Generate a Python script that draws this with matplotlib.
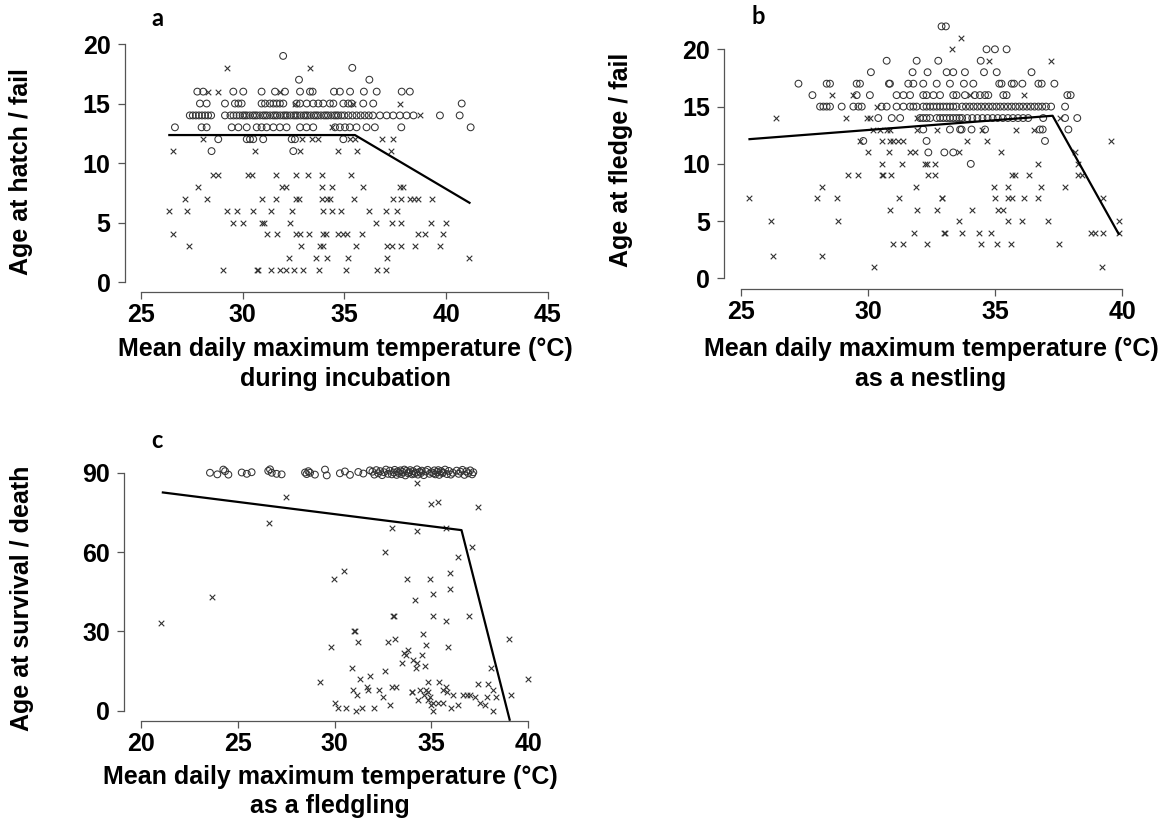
import matplotlib
matplotlib.use("Agg")
import matplotlib.pyplot as plt

plt.rcParams['font.family'] = ['Liberation Sans', 'DejaVu Sans']
plt.rcParams['font.weight'] = 'bold'

# ---------------- Panel a: age at hatch / fail ----------------
a_hatch_ages = [19, 18, 17, 16, 15, 14, 13, 12, 11]
a_hatch_temps = [
    [31.99],
    [35.39],
    [32.77, 36.23],
    [27.77, 28.06, 29.54, 30.03, 30.93, 31.59, 32.08, 32.82, 33.31, 33.44, 34.49, 34.78, 35.28, 35.96, 36.59, 37.82, 38.22],
    [27.90, 28.23, 29.13, 29.62, 29.79, 29.95, 30.93, 31.10, 31.34, 31.51, 31.67, 31.83, 32.0, 32.65, 32.82, 33.15,
     33.47, 33.72, 33.96, 34.29, 34.46, 34.95, 35.19, 35.36, 35.93, 36.42, 40.77],
    [27.4, 27.55, 27.7, 27.85, 28.0, 28.15, 28.3, 28.45, 29.13, 29.4, 29.55, 29.7, 29.85, 30.0, 30.1, 30.2, 30.35,
     30.5, 30.6, 30.7, 30.85, 31.0, 31.1, 31.2, 31.35, 31.5, 31.6, 31.7, 31.85, 32.0, 32.1, 32.2, 32.35, 32.5, 32.6,
     32.7, 32.85, 33.0, 33.1, 33.2, 33.35, 33.5, 33.6, 33.7, 33.85, 34.0, 34.1, 34.2, 34.35, 34.5, 34.6, 34.7, 34.85,
     35.0, 35.2, 35.4, 35.6, 35.8, 36.0, 36.2, 36.4, 36.75, 37.08, 37.4, 37.73, 38.06, 38.4, 39.7, 40.67],
    [26.67, 27.98, 28.23, 29.46, 29.79, 30.2, 30.69, 30.93, 31.18, 31.51, 31.83, 32.16, 32.82, 33.14, 33.47, 34.54,
     34.78, 35.03, 35.27, 35.6, 36.09, 36.5, 37.8, 41.21],
    [28.8, 30.2, 30.36, 30.52, 31.01, 32.41, 32.57, 34.95],
    [28.47, 32.49],
]
a_fail_ages = [18, 16, 15, 14, 13, 12, 11, 9, 8, 7, 6, 5, 4, 3, 2, 1]
a_fail_temps = [
    [29.24, 33.31],
    [28.31, 28.8, 31.83],
    [32.57, 35.44, 37.73],
    [38.7],
    [34.37],
    [28.07, 32.9, 33.39, 33.72, 35.27, 35.52, 36.83, 37.41],
    [26.59, 30.6, 32.82, 34.7, 35.6, 37.29],
    [28.56, 28.8, 30.28, 30.44, 31.62, 32.6, 33.23, 33.88, 35.31],
    [27.79, 31.92, 32.11, 33.88, 34.37, 35.9, 37.73, 37.86],
    [27.18, 28.23, 30.93, 31.62, 32.6, 32.77, 33.91, 34.16, 34.29, 35.49, 37.41, 37.77, 38.22, 38.42, 38.63, 39.29],
    [26.36, 27.28, 29.21, 29.7, 30.49, 31.39, 32.44, 33.93, 34.37, 34.82, 36.19, 37.03, 37.6],
    [29.54, 30.0, 30.93, 31.05, 32.33, 36.54, 37.32, 37.77, 39.24, 39.99],
    [26.56, 31.18, 31.67, 32.6, 32.82, 33.28, 33.96, 34.1, 34.7, 34.95, 35.11, 35.88, 38.63, 38.96, 39.83],
    [27.36, 32.85, 33.8, 33.96, 35.55, 37.08, 37.36, 37.77, 38.47, 39.7],
    [32.28, 33.6, 34.16, 35.19, 37.08, 41.13],
    [29.05, 30.69, 30.77, 31.38, 31.83, 32.11, 32.54, 32.98, 33.75, 35.08, 36.59, 37.05],
]
a_fit_x = [26.34, 35.52, 41.2]
a_fit_y = [12.35, 12.35, 6.61]

# ---------------- Panel b: age at fledge / fail ----------------
b_fledge_ages = [22, 20, 19, 18, 17, 16, 15, 14, 13, 12, 11, 10]
b_fledge_temps = [
    [32.89, 33.06],
    [34.66, 34.99, 35.45],
    [30.73, 31.91, 32.76, 34.43],
    [30.11, 31.75, 32.34, 33.09, 33.35, 33.81, 34.56, 35.06, 36.43],
    [27.26, 28.37, 28.5, 29.55, 29.68, 30.82, 30.86, 31.58, 31.78, 32.17, 32.7, 33.22, 33.77, 34.14, 35.16, 35.25,
     35.65, 35.74, 36.07, 36.7, 36.83, 37.33],
    [27.81, 29.55, 30.07, 31.12, 31.39, 31.65, 32.17, 32.3, 32.57, 32.83, 33.35, 33.48, 33.81, 34.2, 34.4, 34.6,
     34.73, 35.32, 35.45, 37.84, 37.97],
    [28.11, 28.24, 28.37, 28.5, 28.96, 29.42, 29.62, 29.75, 30.53, 30.73, 31.12, 31.39, 31.65, 31.78, 31.91, 32.17,
     32.3, 32.44, 32.57, 32.7, 32.83, 32.96, 33.09, 33.22, 33.35, 33.48, 33.7, 33.85, 34.0, 34.15, 34.3, 34.45, 34.6,
     34.75, 34.9, 35.05, 35.2, 35.35, 35.5, 35.65, 35.8, 35.95, 36.1, 36.25, 36.4, 36.55, 36.7, 36.85, 37.0, 37.2,
     37.75],
    [30.4, 30.93, 31.26, 32.04, 32.17, 32.3, 32.44, 32.7, 32.83, 32.96, 33.09, 33.22, 33.35, 33.48, 33.6, 33.7, 33.9,
     34.1, 34.3, 34.5, 34.7, 34.9, 35.1, 35.3, 35.5, 35.7, 35.9, 36.1, 36.3, 36.89, 37.75, 38.23],
    [32.17, 33.22, 33.62, 33.68, 34.07, 34.6, 36.76, 36.87, 37.88],
    [29.81, 32.3, 36.96],
    [32.37, 33.0, 33.35],
    [34.04],
]
b_fail_ages = [21, 20, 19, 16, 15, 14, 13, 12, 11, 10, 9, 8, 7, 6, 5, 4, 3, 2, 1]
b_fail_temps = [
    [33.64],
    [33.29],
    [34.77, 37.18],
    [28.57, 29.42, 34.01, 36.13],
    [30.34],
    [26.36, 29.12, 29.94, 30.07, 31.91, 37.55],
    [30.21, 30.47, 30.73, 30.86, 31.91, 32.7, 34.47, 35.82, 36.53],
    [29.68, 30.53, 30.86, 30.99, 31.19, 31.39, 33.88, 34.66, 39.54],
    [30.01, 30.84, 31.65, 31.85, 33.59, 35.23, 38.14],
    [30.53, 31.32, 32.24, 32.3, 32.63, 36.67, 38.27],
    [29.22, 29.62, 30.53, 30.57, 30.9, 32.37, 32.63, 35.65, 35.78, 36.34, 38.27, 38.4],
    [28.2, 31.88, 34.97, 35.52, 36.8, 37.75],
    [25.33, 27.98, 28.76, 31.22, 32.89, 32.92, 34.99, 35.52, 35.65, 36.15, 36.7, 39.25],
    [30.86, 31.91, 32.7, 34.07, 35.1, 35.32],
    [26.18, 28.83, 33.58, 35.52, 36.04, 37.06, 39.88],
    [31.82, 32.99, 33.02, 33.71, 34.36, 34.82, 38.76, 38.93, 39.25, 39.88],
    [30.97, 31.39, 32.3, 34.43, 35.06, 35.62, 37.52],
    [26.27, 28.17],
    [30.25, 39.19],
]
b_fit_x = [25.29, 37.26, 39.88]
b_fit_y = [12.15, 14.2, 3.8]

# ---------------- Panel c: age at survival / death ----------------
c_surv_temp = [23.56, 23.94, 24.25, 24.34, 24.51, 25.2, 25.46, 25.71, 26.57, 26.66, 26.75, 27.0, 27.26, 28.47,
               28.55, 28.64, 28.73, 28.98, 29.5, 29.59, 30.27, 30.53, 30.79, 31.22, 31.48, 31.82,
               31.95, 32.05, 32.15, 32.25, 32.35, 32.45, 32.55, 32.65, 32.75, 32.85, 32.95, 33.05, 33.1, 33.2,
               33.25, 33.3, 33.4, 33.45, 33.5, 33.6, 33.65, 33.7, 33.8, 33.85, 33.9, 34.0, 34.05, 34.1, 34.2,
               34.25, 34.3, 34.4, 34.45, 34.5, 34.6, 34.7, 34.8, 34.9, 35.0, 35.1, 35.15, 35.2, 35.3, 35.35,
               35.4, 35.5, 35.55, 35.6, 35.7, 35.8, 35.9, 36.0, 36.1, 36.3, 36.4, 36.5, 36.6, 36.7, 36.8, 36.9,
               37.0, 37.1, 37.16]
c_surv_age = [90.0, 89.4, 91.2, 90.6, 89.3, 90.1, 89.6, 90.2, 90.7, 91.3, 90.0, 89.6, 89.4, 90.1, 89.5, 90.6,
              90.0, 89.3, 91.2, 89.0, 89.8, 90.5, 89.2, 90.3, 89.7, 90.9,
              90.4, 89.3, 91.0, 89.8, 90.6, 89.1, 90.2, 91.2, 89.6, 90.8,
              89.4, 90.1, 91.1, 89.2, 90.5, 89.9, 90.9, 89.5, 90.3, 91.2,
              89.0, 90.7, 89.8, 90.2, 91.0, 89.4, 90.6, 89.7, 90.0, 91.3,
              89.3, 90.4, 89.9, 90.8, 89.1, 90.5, 91.1, 89.6, 90.2, 89.8,
              90.9, 89.4, 90.3, 91.0, 89.2, 90.6, 89.9, 90.1, 91.2, 89.5,
              90.7, 89.3, 90.0, 90.8, 89.6, 90.4, 91.1, 89.2, 90.5, 89.8,
              90.9, 89.4, 90.2]
c_died_temp = [34.23, 27.47, 35.0, 35.35, 37.38, 26.63, 32.94, 34.27, 35.75, 37.07, 32.6, 36.35, 30.5, 29.98,
               33.72, 34.92, 35.95, 35.95, 35.06, 34.15, 23.68, 21.03, 33.0, 33.05, 35.06, 36.93, 35.73, 31.0,
               31.05, 34.54, 31.2, 32.77, 33.1, 34.7, 35.86, 29.81, 39.0, 33.6, 33.8, 33.7, 34.5, 34.06, 34.23,
               33.47, 34.2, 34.66, 30.9, 38.07, 32.6, 31.3, 31.82, 29.24, 34.83, 35.4, 39.99, 31.65, 32.94, 33.17,
               37.38, 37.93, 35.75, 30.96, 31.73, 32.3, 34.43, 35.61, 35.78, 38.19, 33.97, 34.0, 34.8, 34.7,
               31.13, 32.48, 34.63, 34.92, 36.09, 36.64, 36.81, 36.98, 37.24, 37.89, 38.32, 39.1, 34.32, 34.83,
               30.02, 30.19, 30.58, 31.1, 31.4, 32.05, 32.85, 35.1, 35.35, 35.57, 35.0, 35.1, 35.99, 36.38, 37.5,
               37.76, 38.19]
c_died_age = [86, 81, 78, 79, 77, 71, 69, 68, 69, 62, 60, 58, 53, 50,
              50, 50, 52, 46, 44, 42, 43, 33, 36, 36, 36, 36, 34, 30,
              30, 29, 26, 26, 27, 25, 24, 24, 27, 22, 23, 21, 21, 19, 18,
              18, 16, 17, 16, 16, 15, 12, 13, 11, 11, 11, 12, 9, 9, 9,
              10, 10, 9, 8, 8, 8, 8, 8, 7, 8, 7, 7, 7, 8,
              6, 5, 6, 5, 6, 6, 6, 6, 5, 5, 5, 6, 4, 4,
              3, 1, 1, 0, 1, 1, 2, 3, 3, 3, 2, 0, 1, 2, 3,
              2, 0]
c_fit_x = [21.07, 36.55, 39.05]
c_fit_y = [82.6, 68.3, -3.8]

# ---------------- drawing ----------------
W, H = 1165, 824
fig = plt.figure(figsize=(W / 100, H / 100), dpi=100)

MCOL = '#333333'
SPCOL = '#555555'
FS = 18


def px_axes(left, right, top, bottom):
    return fig.add_axes([left / W, 1 - bottom / H, (right - left) / W, (bottom - top) / H])


def flatten(ages, temps):
    xs, ys = [], []
    for age, row in zip(ages, temps):
        for t in row:
            xs.append(t)
            ys.append(age)
    return xs, ys


def style(ax, xlim, ylim, xb, yb, xt, yt):
    ax.set_xlim(*xlim)
    ax.set_ylim(*ylim)
    for s in ('top', 'right'):
        ax.spines[s].set_visible(False)
    for s in ('left', 'bottom'):
        ax.spines[s].set_color(SPCOL)
        ax.spines[s].set_linewidth(0.9)
    ax.spines['bottom'].set_bounds(*xb)
    ax.spines['left'].set_bounds(*yb)
    ax.set_xticks(xt)
    ax.set_yticks(yt)
    ax.tick_params(axis='both', length=5, width=0.9, color=SPCOL, labelsize=FS)
    ax.tick_params(axis='x', pad=3)
    ax.tick_params(axis='y', pad=5)
    for lab in ax.get_xticklabels() + ax.get_yticklabels():
        lab.set_fontweight('bold')
    ax.patch.set_alpha(0)


def draw(ax, cx, cy, fx, fy, lx, ly):
    ax.scatter(cx, cy, marker='o', s=24, facecolors='none', edgecolors=MCOL, linewidths=0.75, clip_on=False, zorder=2)
    ax.scatter(fx, fy, marker='x', s=16, c=MCOL, linewidths=0.8, clip_on=False, zorder=2)
    ax.plot(lx, ly, color='black', lw=1.6, zorder=3, solid_capstyle='butt')


# panel a
axa = px_axes(124.5, 564, 34.5, 292)
cx, cy = flatten(a_hatch_ages, a_hatch_temps)
fx, fy = flatten(a_fail_ages, a_fail_temps)
draw(axa, cx, cy, fx, fy, a_fit_x, a_fit_y)
style(axa, (24.19, 45.8), (-0.84, 20.8), (25, 45), (0, 20), [25, 30, 35, 40, 45], [0, 5, 10, 15, 20])

# panel b
axb = px_axes(724, 1137.5, 16.3, 289)
cx, cy = flatten(b_fledge_ages, b_fledge_temps)
fx, fy = flatten(b_fail_ages, b_fail_temps)
draw(axb, cx, cy, fx, fy, b_fit_x, b_fit_y)
style(axb, (24.33, 40.6), (-0.92, 22.88), (25, 40), (0, 20), [25, 30, 35, 40], [0, 5, 10, 15, 20])

# panel c
axc = px_axes(124, 543.8, 460.6, 720.7)
draw(axc, c_surv_temp, c_surv_age, c_died_temp, c_died_age, c_fit_x, c_fit_y)
style(axc, (19.12, 40.8), (-3.78, 94.6), (20, 40), (0, 90), [20, 25, 30, 35, 40], [0, 30, 60, 90])


def ftext(x, y, s, **kw):
    fig.text(x / W, 1 - y / H, s, **kw)


lab_kw = dict(fontsize=FS, fontweight='bold', ha='center', va='center')
ftext(21, 172, 'Age at hatch / fail', rotation=90, **lab_kw)
ftext(621, 160, 'Age at fledge / fail', rotation=90, **lab_kw)
ftext(22, 598, 'Age at survival / death', rotation=90, **lab_kw)

ftext(345, 349, 'Mean daily maximum temperature (°C)', **lab_kw)
ftext(345, 379, 'during incubation', **lab_kw)
ftext(931, 349, 'Mean daily maximum temperature (°C)', **lab_kw)
ftext(931, 379, 'as a nestling', **lab_kw)
ftext(330, 777, 'Mean daily maximum temperature (°C)', **lab_kw)
ftext(330, 806, 'as a fledgling', **lab_kw)

let_kw = dict(fontsize=17, fontweight='bold', ha='center', va='center', family=['Lato', 'DejaVu Sans'])
ftext(157, 18, 'a', **let_kw)
ftext(758, 16, 'b', **let_kw)
ftext(157, 440, 'c', **let_kw)

fig.savefig('out.png', dpi=100, facecolor='white')
